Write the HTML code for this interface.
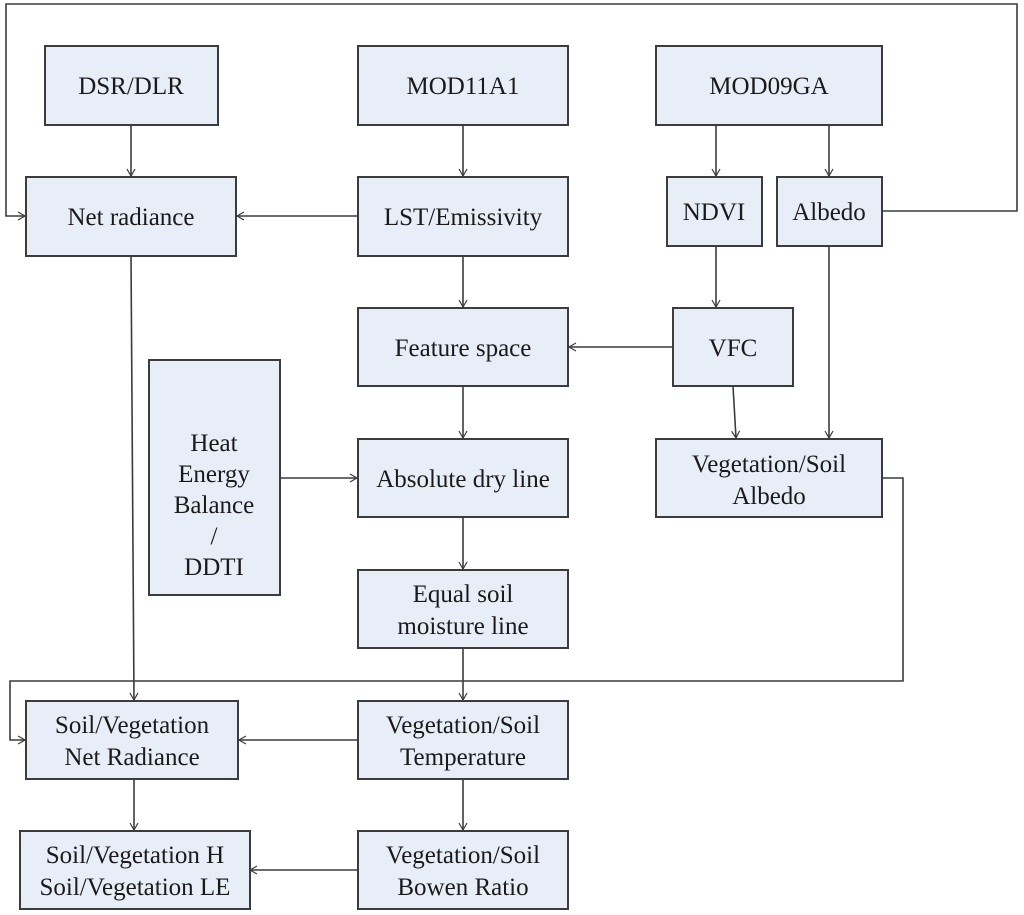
<!DOCTYPE html>
<html><head><meta charset="utf-8"><style>
html,body{margin:0;padding:0;background:#fff;}
svg{display:block;}
text{font-family:"Liberation Serif",serif;font-size:25px;fill:#1a1a1a;text-anchor:middle;}
rect{fill:#e8eef8;stroke:#3c3c3c;stroke-width:2;}
line,polyline{stroke:#3c3c3c;stroke-width:1.6;fill:none;}
</style></head><body>
<svg width="1024" height="915" viewBox="0 0 1024 915" xmlns="http://www.w3.org/2000/svg">
<defs><marker id="a" markerWidth="10" markerHeight="10" refX="9" refY="5" orient="auto" markerUnits="userSpaceOnUse"><polyline points="2,1 9,5 2,9" style="stroke:#3c3c3c;stroke-width:1.2;fill:none"/></marker></defs>
<polyline points="882,211 1017,211 1017,4 6,4 6,216 25,216" marker-end="url(#a)"/>
<line x1="131" y1="125" x2="131" y2="176" marker-end="url(#a)"/>
<line x1="463" y1="125" x2="463" y2="176" marker-end="url(#a)"/>
<line x1="716" y1="125" x2="716" y2="176" marker-end="url(#a)"/>
<line x1="829" y1="125" x2="829" y2="176" marker-end="url(#a)"/>
<line x1="358" y1="216" x2="237" y2="216" marker-end="url(#a)"/>
<line x1="463" y1="256" x2="463" y2="307" marker-end="url(#a)"/>
<line x1="716" y1="246" x2="716" y2="307" marker-end="url(#a)"/>
<line x1="673" y1="347" x2="569" y2="347" marker-end="url(#a)"/>
<line x1="733" y1="386" x2="736" y2="438" marker-end="url(#a)"/>
<line x1="829" y1="246" x2="829" y2="438" marker-end="url(#a)"/>
<line x1="463" y1="386" x2="463" y2="438" marker-end="url(#a)"/>
<line x1="280" y1="478" x2="357" y2="478" marker-end="url(#a)"/>
<line x1="463" y1="517" x2="463" y2="569" marker-end="url(#a)"/>
<line x1="463" y1="648" x2="463" y2="700" marker-end="url(#a)"/>
<line x1="131" y1="256" x2="134" y2="700" marker-end="url(#a)"/>
<polyline points="882,478 903,478 903,681 10,681 10,740 25,740" marker-end="url(#a)"/>
<line x1="358" y1="740" x2="239" y2="740" marker-end="url(#a)"/>
<line x1="134" y1="779" x2="134" y2="830" marker-end="url(#a)"/>
<line x1="463" y1="779" x2="463" y2="830" marker-end="url(#a)"/>
<line x1="358" y1="870" x2="250" y2="870" marker-end="url(#a)"/>
<rect x="45" y="46" width="173" height="79"/><text x="131" y="94">DSR/DLR</text>
<rect x="358" y="46" width="210" height="79"/><text x="463" y="94">MOD11A1</text>
<rect x="656" y="46" width="226" height="79"/><text x="769" y="94">MOD09GA</text>
<rect x="26" y="177" width="210" height="79"/><text x="131" y="225">Net radiance</text>
<rect x="358" y="177" width="210" height="79"/><text x="463" y="225">LST/Emissivity</text>
<rect x="667" y="177" width="95" height="69"/><text x="714" y="220">NDVI</text>
<rect x="777" y="177" width="105" height="69"/><text x="829" y="220">Albedo</text>
<rect x="358" y="308" width="210" height="78"/><text x="463" y="356">Feature space</text>
<rect x="673" y="308" width="120" height="78"/><text x="733" y="356">VFC</text>
<rect x="149" y="360" width="131" height="235"/>
<text x="214" y="451">Heat</text><text x="214" y="482">Energy</text><text x="214" y="513">Balance</text><text x="214" y="544">/</text><text x="214" y="575">DDTI</text>
<rect x="358" y="439" width="210" height="78"/><text x="463" y="487">Absolute dry line</text>
<rect x="656" y="439" width="226" height="78"/><text x="769" y="472">Vegetation/Soil</text><text x="769" y="504">Albedo</text>
<rect x="358" y="570" width="210" height="78"/><text x="463" y="602">Equal soil</text><text x="463" y="634">moisture line</text>
<rect x="26" y="701" width="212" height="78"/><text x="132" y="733">Soil/Vegetation</text><text x="132" y="765">Net Radiance</text>
<rect x="358" y="701" width="210" height="78"/><text x="463" y="733">Vegetation/Soil</text><text x="463" y="765">Temperature</text>
<rect x="20" y="831" width="230" height="78"/><text x="135" y="863">Soil/Vegetation H</text><text x="135" y="895">Soil/Vegetation LE</text>
<rect x="358" y="831" width="210" height="78"/><text x="463" y="863">Vegetation/Soil</text><text x="463" y="895">Bowen Ratio</text>
</svg>
</body></html>
